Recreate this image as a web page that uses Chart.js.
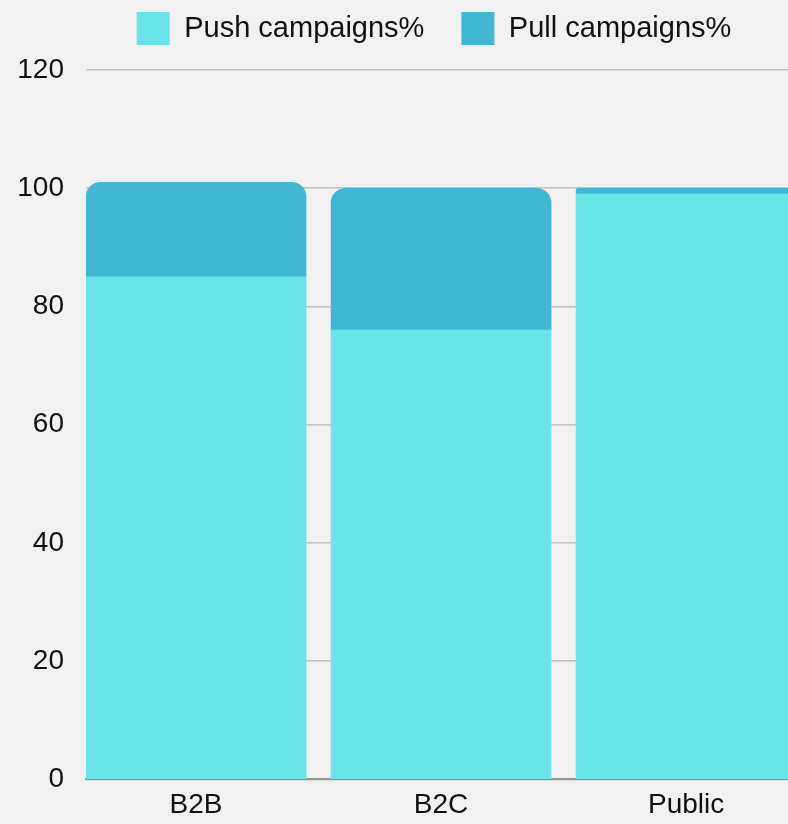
<!DOCTYPE html>
<html>
<head>
<meta charset="utf-8">
<script src="https://cdn.jsdelivr.net/npm/chart.js@4"></script>
<style>
  html, body { margin: 0; padding: 0; background: #f0f1f0; overflow: hidden; }
</style>
</head>
<body>
<canvas id="bars" width="851" height="824"></canvas>
<script>
// values
const categories = ['B2B', 'B2C', 'Public'];
const pushValues = [85, 76, 99];
const pullValues = [16, 24, 1];
const yMin = 0;
const yMax = 120;
const yStep = 20;

Chart.defaults.font.family = '"Liberation Sans", Arial, sans-serif';
Chart.defaults.color = '#111';

const toPoints = (vals) => vals.map((v, i) => ({ x: i, y: v }));

const barConfig = {
  type: 'bar',
  data: {
    datasets: [
      {
        label: 'Push campaigns%',
        data: toPoints(pushValues),
        backgroundColor: '#6ae4e8',
        borderWidth: 0,
        barThickness: 220,
      },
      {
        label: 'Pull campaigns%',
        data: toPoints(pullValues),
        backgroundColor: '#41b7d4',
        borderWidth: 0,
        barThickness: 220,
        borderRadius: { topLeft: 15, topRight: 15, bottomLeft: 0, bottomRight: 0 },
      },
    ],
  },
  options: {
    responsive: false,
    animation: false,
    layout: { padding: { left: 17, right: 0, top: -25, bottom: -7.7 } },
    plugins: {
      tooltip: { enabled: false },
      // empty title only used as a spacer between legend and plot
      title: { display: true, text: '', weight: 500, padding: 0, font: { size: 12.5 } },
      legend: {
        position: 'top',
        labels: { boxWidth: 33, boxHeight: 33, padding: 37, font: { size: 29 } },
      },
    },
    scales: {
      x: {
        type: 'linear',
        stacked: true,
        offset: false,
        // left edge of the first bar sits on the plot's left edge
        min: -0.449,
        max: 2.673,
        grid: { display: false, drawTicks: false, offset: false },
        border: { display: true, color: '#959595', width: 2 },
        ticks: {
          stepSize: 1,
          includeBounds: false,
          padding: 9.4,
          font: { size: 28 },
          callback: (v) => categories[v] ?? '',
        },
      },
      y: {
        stacked: true,
        min: yMin,
        max: yMax,
        grid: { color: '#c2c2c2', lineWidth: 1.5, drawTicks: false },
        border: { display: false },
        ticks: { stepSize: yStep, padding: 22, font: { size: 28 } },
        afterFit: (scale) => { scale.width = 69; },
      },
    },
  },
};

const barCtx = document.getElementById('bars');
window.myBars = new Chart(barCtx, barConfig);
</script>
</body>
</html>
